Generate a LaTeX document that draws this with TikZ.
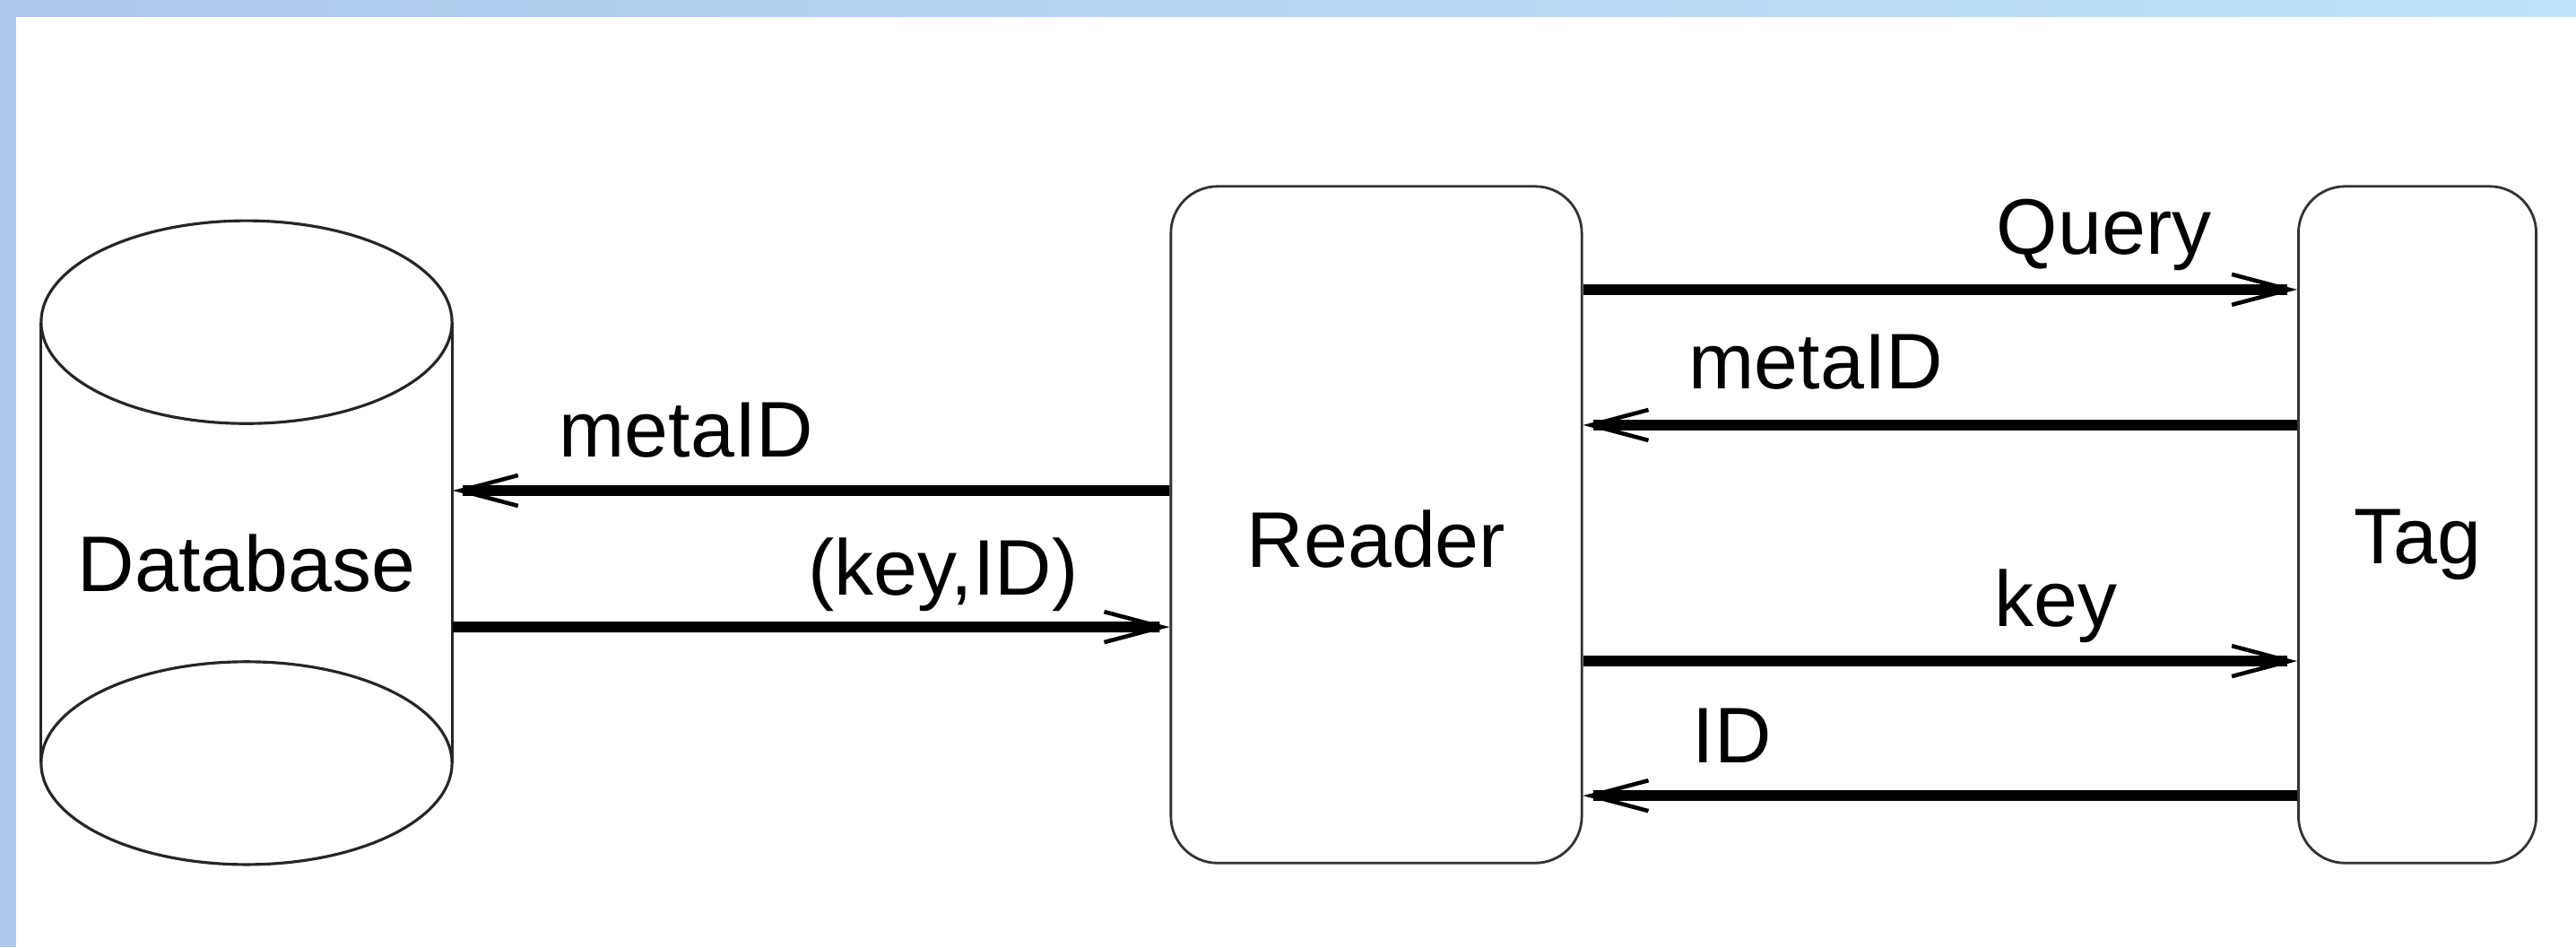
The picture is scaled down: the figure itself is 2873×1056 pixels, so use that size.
\documentclass[tikz,border=0pt]{standalone}
\usepackage{fontspec}
\setmainfont{Liberation Sans}
\usetikzlibrary{positioning, arrows.meta}

\definecolor{bandleft}{HTML}{AEC8EC}
\definecolor{bandright}{HTML}{BEE3FA}

\tikzset{
  box/.style={draw=black!80, line width=0.8pt, rounded corners=0.52cm, minimum height=7.54cm},
  cyl/.style={draw=black!85, line width=0.9pt},
  msg/.style={line width=3.4pt, -{Straight Barb[length=0.64cm, width=0.34cm, line width=1.3pt]}},
  lbl/.style={inner sep=0pt},
}

\begin{document}
\begin{tikzpicture}[x=0.01cm, y=-0.01cm, font=\fontsize{25}{30}\selectfont]
  \useasboundingbox (0,0) rectangle (2873,1056);
  % slide frame
  \shade[left color=bandleft, right color=bandright] (0,0) rectangle (2873,18);
  \fill[bandleft] (0,0) rectangle (18,1056);

  \node[box, minimum width=4.58cm, text height=0.95cm] (reader) at (1535,585) {Reader};
  \node[box, minimum width=2.65cm, text height=1.06cm] (tag) at (2696,585) {Tag};
  \node[minimum width=4.58cm, minimum height=4.9cm, text height=1.09cm] (db) at (275,605) {Database};

  % database cylinder
  \draw[cyl] (db.north) ellipse [x radius=2.29cm, y radius=1.13cm];
  \draw[cyl] (db.south) ellipse [x radius=2.29cm, y radius=1.13cm];
  \draw[cyl] (db.north west) -- (db.south west);
  \draw[cyl] (db.north east) -- (db.south east);

  % reader <-> database
  \draw[msg] ([yshift=0.38cm]reader.west) -- ([yshift=0.58cm]db.east);
  \draw[msg] ([yshift=-0.94cm]db.east) -- ([yshift=-1.14cm]reader.west);
  \node[lbl, anchor=base west] (metaL) at (623,509) {metaID};
  \node[lbl, anchor=base east] (keyid) at (1203,663) {(key,ID)};

  % reader <-> tag
  \draw[msg] ([yshift=2.62cm]reader.east) -- ([yshift=2.62cm]tag.west);
  \draw[msg] ([yshift=1.11cm]tag.west) -- ([yshift=1.11cm]reader.east);
  \draw[msg] ([yshift=-1.52cm]reader.east) -- ([yshift=-1.52cm]tag.west);
  \draw[msg] ([yshift=-3.02cm]tag.west) -- ([yshift=-3.02cm]reader.east);
  \node[lbl, anchor=base east] (query) at (2467,283) {Query};
  \node[lbl, anchor=base west] (metaR) at (1883,433) {metaID};
  \node[lbl, anchor=base east] (key) at (2362,698) {key};
  \node[lbl, anchor=base west] (id) at (1887,850) {ID};
\end{tikzpicture}
\end{document}
